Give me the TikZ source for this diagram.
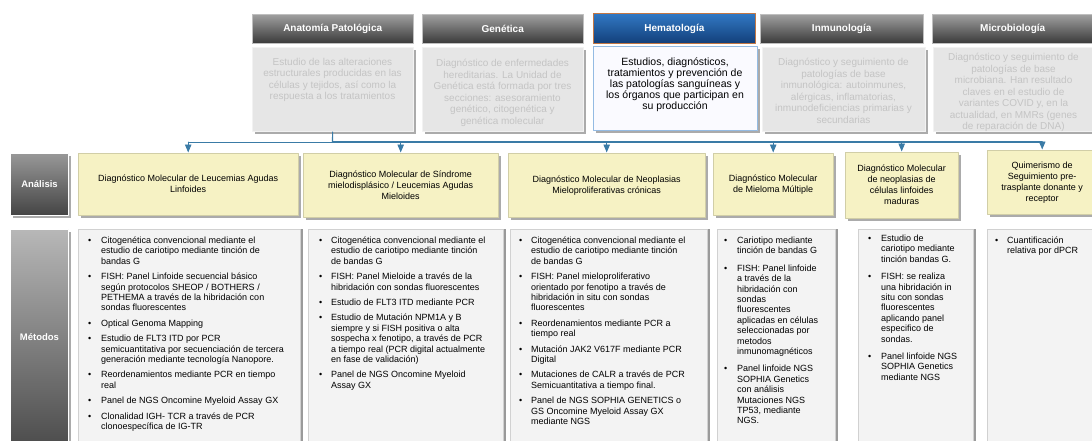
\documentclass[tikz,border=0pt]{standalone}
\usepackage{fontspec}
\setmainfont{Liberation Sans}
\usepackage{xcolor}
\usepackage{tikz}
\usetikzlibrary{arrows,shadows}

\definecolor{hdrtop}{HTML}{A0A0A0}
\definecolor{hdrbot}{HTML}{3A3A3A}
\definecolor{hematop}{HTML}{3279C4}
\definecolor{hemabot}{HTML}{123F7A}
\definecolor{hemaedge}{HTML}{C27745}
\definecolor{hemaline}{HTML}{94BBE3}
\definecolor{descfill}{HTML}{E6E6E6}
\definecolor{desctext}{HTML}{C4C4C4}
\definecolor{anafill}{HTML}{F6F2C4}
\definecolor{metfill}{HTML}{F3F3F3}
\definecolor{shade}{HTML}{ABABAB}
\definecolor{busblue}{HTML}{3A7BA6}

\newcommand{\bul}{\textbullet}

\begin{document}
\begin{tikzpicture}[line cap=round,line join=round,>=triangle 45,x=1pt,y=-1pt,
	shd/.style={general shadow={fill=shade,shadow xshift=2.5pt,shadow yshift=-2.5pt}},
	hdr/.style={rectangle,anchor=north west,inner sep=0pt,top color=hdrtop,bottom color=hdrbot,draw=white!75!black,text=white,font=\fontsize{10}{12}\selectfont\bfseries},
	hemahdr/.style={hdr,top color=hematop,bottom color=hemabot,draw=hemaedge,line width=0.8pt},
	desc/.style={rectangle,anchor=north west,inner sep=0pt,fill=descfill,draw=white!95!black,line width=1pt,shd,minimum height=84pt},
	hemadesc/.style={desc,fill=white!98!blue,draw=hemaline,line width=1.2pt},
	desctxt/.style={anchor=north,inner sep=0pt,align=center,text=desctext,font=\fontsize{10}{11.5}\selectfont},
	hematxt/.style={desctxt,text=black,font=\fontsize{10.5}{11}\selectfont},
	side/.style={rectangle,anchor=north west,inner sep=0pt,minimum width=58pt,draw=white,line width=1pt,shd,text=white,font=\fontsize{9.5}{11}\selectfont\bfseries},
	ana/.style={rectangle,anchor=north west,inner sep=2pt,align=center,fill=anafill,draw=anafill!85!black,line width=0.4pt,shd,font=\fontsize{9}{11}\selectfont},
	met/.style={rectangle,anchor=north west,inner sep=0pt,fill=metfill,draw=white!82!black,line width=0.6pt,general shadow={fill=shade!90!black,shadow xshift=3pt,shadow yshift=0pt},minimum height=220pt},
	mettxt/.style={anchor=north west,inner sep=0pt,font=\fontsize{9}{10.4}\selectfont},
	bus/.style={draw=busblue,line width=1.1pt},
	dropline/.style={->,draw=busblue,line width=0.8pt,shorten >=0.6pt}]
	\useasboundingbox (0,0) rectangle (1092,440);
	\clip (0,0) rectangle (1092,440);
	\fill[white] (0,0) rectangle (1092,440);

	\node[hdr,minimum width=161pt,minimum height=29pt] (hAnat) at (252,14) {Anatomía Patológica};
	\node[hdr,minimum width=161pt,minimum height=29pt] (hGen) at (422,14) {Genética};
	\node[hemahdr,minimum width=162pt,minimum height=30pt] (hHema) at (593,13) {Hematología};
	\node[hdr,minimum width=163pt,minimum height=29pt] (hInm) at (760,14) {Inmunología};
	\node[hdr,minimum width=161pt,minimum height=29pt] (hMic) at (932,14) {Microbiología};

	\node[desc,minimum width=161pt] (dAnat) at (252,47) {};
	\node[desc,minimum width=161pt] (dGen) at (422,47) {};
	\node[hemadesc,minimum width=164pt] (dHema) at (593,46) {};
	\node[desc,minimum width=163pt] (dInm) at (762,47) {};
	\node[desc,minimum width=161pt] (dMic) at (933,47) {};

	\node[desctxt] (tAnat) at (332.5,58) {Estudio de las alteraciones\\estructurales producidas en las\\células y tejidos, así como la\\respuesta a los tratamientos};
	\node[desctxt] (tGen) at (502.5,59) {Diagnóstico de enfermedades\\hereditarias. La Unidad de\\Genética está formada por tres\\secciones: asesoramiento\\genético, citogenética y\\genética molecular};
	\node[hematxt] (tHema) at (675,58) {Estudios, diagnósticos,\\tratamientos y prevención de\\las patologías sanguíneas y\\los órganos que participan en\\su producción};
	\node[desctxt] (tInm) at (843.5,58) {Diagnóstico y seguimiento de\\patologías de base\\inmunológica: autoinmunes,\\alérgicas, inflamatorias,\\inmunodeficiencias primarias y\\secundarias};
	\node[desctxt] (tMic) at (1013.5,53) {Diagnóstico y seguimiento de\\patologías de base\\microbiana. Han resultado\\claves en el estudio de\\variantes COVID y, en la\\actualidad, en MMRs (genes\\de reparación de DNA)};

	\node[side,minimum height=62pt,top color=hdrtop!95!black,bottom color=hdrbot!95!white] (lAna) at (10,153) {Análisis};
	\node[side,minimum height=216pt,top color=white!72!black,bottom color=white!30!black] (lMet) at (10,229) {Métodos};

	\node[ana,minimum width=220pt,minimum height=62pt] (a1) at (78,153) {Diagnóstico Molecular de Leucemias Agudas\\Linfoides};
	\node[ana,minimum width=195pt,minimum height=64pt] (a2) at (303,153) {Diagnóstico Molecular de Síndrome\\mielodisplásico / Leucemias Agudas\\Mieloides};
	\node[ana,minimum width=197pt,minimum height=64pt] (a3) at (508,153) {Diagnóstico Molecular de Neoplasias\\Mieloproliferativas crónicas};
	\node[ana,minimum width=120pt,minimum height=62pt] (a4) at (713,153) {Diagnóstico Molecular\\de Mieloma Múltiple};
	\node[ana,minimum width=113pt,minimum height=66pt] (a5) at (845,152) {Diagnóstico Molecular\\de neoplasias de\\células linfoides\\maduras};
	\node[ana,minimum width=110pt,minimum height=64pt] (a6) at (987,150) {Quimerismo de\\Seguimiento pre-\\trasplante donante y\\receptor};

	\coordinate (hub) at (332.5,142);
	\draw[bus] (dAnat) -- (hub);
	\draw[bus] (hub) -- (hub -| a6);
	\draw[bus,line width=0.6pt] (hub) -- (hub -| a1);
	\foreach \n in {a1,a2,a3,a4,a5,a6}
		\draw[dropline] (hub -| \n) -- (\n);

	\node[met,minimum width=222pt] (m1) at (78,229) {};
	\node[met,minimum width=195pt] (m2) at (308,229) {};
	\node[met,minimum width=197pt] (m3) at (510,229) {};
	\node[met,minimum width=118pt] (m4) at (717,229) {};
	\node[met,minimum width=115pt] (m5) at (858,229) {};
	\node[met,minimum width=110pt] (m6) at (987,229) {};

	\node[mettxt] (t1) at (88,236) {\begin{tabular}{@{}p{13pt}@{}l@{}}
		\bul & Citogenética convencional mediante el\\
		& estudio de cariotipo mediante tinción de\\
		& bandas G\\[5pt]
		\bul & FISH: Panel Linfoide secuencial básico\\
		& según protocolos SHEOP / BOTHERS /\\
		& PETHEMA a través de la hibridación con\\
		& sondas fluorescentes\\[5pt]
		\bul & Optical Genoma Mapping\\[5pt]
		\bul & Estudio de FLT3 ITD por PCR\\
		& semicuantitativa por secuenciación de tercera\\
		& generación mediante tecnología Nanopore.\\[5pt]
		\bul & Reordenamientos mediante PCR en tiempo\\
		& real\\[5pt]
		\bul & Panel de NGS Oncomine Myeloid Assay GX\\[5pt]
		\bul & Clonalidad IGH- TCR a través de PCR\\
		& clonoespecífica de IG-TR
	\end{tabular}};
	\node[mettxt] (t2) at (319,236) {\begin{tabular}{@{}p{12pt}@{}l@{}}
		\bul & Citogenética convencional mediante el\\
		& estudio de cariotipo mediante tinción\\
		& de bandas G\\[5pt]
		\bul & FISH: Panel Mieloide a través de la\\
		& hibridación con sondas fluorescentes\\[5pt]
		\bul & Estudio de FLT3 ITD mediante PCR\\[5pt]
		\bul & Estudio de Mutación NPM1A y B\\
		& siempre y si FISH positiva o alta\\
		& sospecha x fenotipo, a través de PCR\\
		& a tiempo real (PCR digital actualmente\\
		& en fase de validación)\\[5pt]
		\bul & Panel de NGS Oncomine Myeloid\\
		& Assay GX
	\end{tabular}};
	\node[mettxt] (t3) at (519,236) {\begin{tabular}{@{}p{12pt}@{}l@{}}
		\bul & Citogenética convencional mediante el\\
		& estudio de cariotipo mediante tinción\\
		& de bandas G\\[5pt]
		\bul & FISH: Panel mieloproliferativo\\
		& orientado por fenotipo a través de\\
		& hibridación in situ con sondas\\
		& fluorescentes\\[5pt]
		\bul & Reordenamientos mediante PCR a\\
		& tiempo real\\[5pt]
		\bul & Mutación JAK2 V617F mediante PCR\\
		& Digital\\[5pt]
		\bul & Mutaciones de CALR a través de PCR\\
		& Semicuantitativa a tiempo final.\\[5pt]
		\bul & Panel de NGS SOPHIA GENETICS o\\
		& GS Oncomine Myeloid Assay GX\\
		& mediante NGS
	\end{tabular}};
	\node[mettxt] (t4) at (724,236) {\begin{tabular}{@{}p{13pt}@{}l@{}}
		\bul & Cariotipo mediante\\
		& tinción de bandas G\\[7pt]
		\bul & FISH: Panel linfoide\\
		& a través de la\\
		& hibridación con\\
		& sondas\\
		& fluorescentes\\
		& aplicadas en células\\
		& seleccionadas por\\
		& metodos\\
		& inmunomagnéticos\\[7pt]
		\bul & Panel linfoide NGS\\
		& SOPHIA Genetics\\
		& con análisis\\
		& Mutaciones NGS\\
		& TP53, mediante\\
		& NGS.
	\end{tabular}};
	\node[mettxt] (t5) at (868,234) {\begin{tabular}{@{}p{13pt}@{}l@{}}
		\bul & Estudio de\\
		& cariotipo mediante\\
		& tinción bandas G.\\[7pt]
		\bul & FISH: se realiza\\
		& una hibridación in\\
		& situ con sondas\\
		& fluorescentes\\
		& aplicando panel\\
		& especifico de\\
		& sondas.\\[7pt]
		\bul & Panel linfoide NGS\\
		& SOPHIA Genetics\\
		& mediante NGS
	\end{tabular}};
	\node[mettxt] (t6) at (995,236) {\begin{tabular}{@{}p{12pt}@{}l@{}}
		\bul & Cuantificación\\
		& relativa por dPCR
	\end{tabular}};
\end{tikzpicture}
\end{document}
